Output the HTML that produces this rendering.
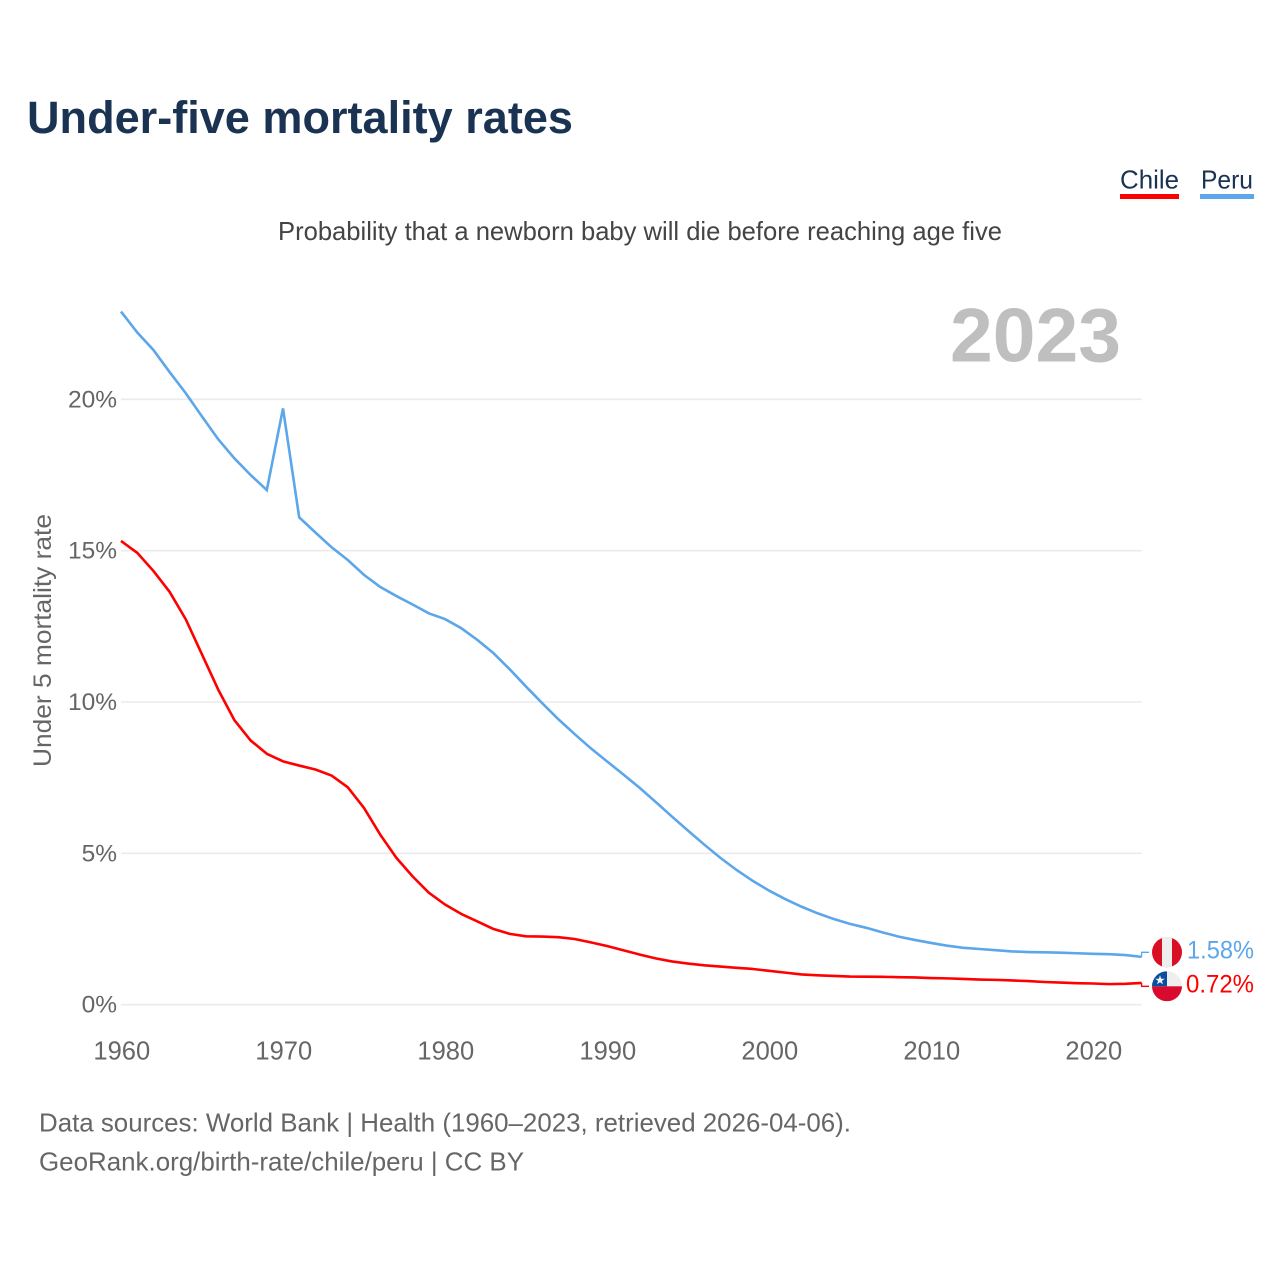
<!DOCTYPE html>
<html lang="en">
<head>
<meta charset="utf-8">
<title>Under-five mortality rates</title>
<style>
html,body{margin:0;padding:0;background:#fff;width:1280px;height:1280px;overflow:hidden}
svg{display:block}
text{font-family:"Liberation Sans",sans-serif}
</style>
</head>
<body>
<svg id="chart" width="1280" height="1280" viewBox="0 0 1280 1280" xmlns="http://www.w3.org/2000/svg">
  <rect x="0" y="0" width="1280" height="1280" fill="#ffffff"/>
  <text x="27" y="133" font-size="45" font-weight="700" fill="#1a3352" textLength="546" lengthAdjust="spacingAndGlyphs">Under-five mortality rates</text>
  <g>
    <text x="1120" y="188.5" font-size="26" fill="#1a3352" textLength="59" lengthAdjust="spacingAndGlyphs">Chile</text>
    <rect x="1120" y="194" width="59" height="5" fill="#ff0000"/>
  </g>
  <g>
    <text x="1201" y="188.5" font-size="26" fill="#1a3352" textLength="52" lengthAdjust="spacingAndGlyphs">Peru</text>
    <rect x="1200" y="194" width="54" height="5" fill="#5ca6ea"/>
  </g>
  <text x="278" y="240" font-size="26" fill="#444444" textLength="724" lengthAdjust="spacingAndGlyphs">Probability that a newborn baby will die before reaching age five</text>
  <text x="950" y="361.5" font-size="76" font-weight="700" fill="#bfbfbf" textLength="171" lengthAdjust="spacingAndGlyphs">2023</text>
  <text transform="translate(51,767) rotate(-90)" x="0" y="0" font-size="25" fill="#666666" textLength="253" lengthAdjust="spacingAndGlyphs">Under 5 mortality rate</text>
  <g id="grid"></g>
  <g id="yticks"></g>
  <g id="xticks"></g>
  <g id="series"></g>
  <g id="ends"></g>
  <text x="39" y="1131.5" font-size="26" fill="#666666" textLength="812" lengthAdjust="spacingAndGlyphs">Data sources: World Bank | Health (1960–2023, retrieved 2026-04-06).</text>
  <text x="39" y="1170.5" font-size="26" fill="#666666" textLength="485" lengthAdjust="spacingAndGlyphs">GeoRank.org/birth-rate/chile/peru | CC BY</text>
</svg>
<script>
const firstYear = 1960;
const lastYear = 2023;
const yearTicks = [1960, 1970, 1980, 1990, 2000, 2010, 2020];
const rateTicks = [0, 5, 10, 15, 20];
const chileRates = [15.32, 14.93, 14.33, 13.64, 12.73, 11.57, 10.41, 9.40, 8.73, 8.29,
  8.04, 7.90, 7.77, 7.57, 7.18, 6.50, 5.62, 4.85, 4.24, 3.70,
  3.31, 3.00, 2.75, 2.50, 2.34, 2.26, 2.25, 2.23, 2.17, 2.06,
  1.94, 1.80, 1.66, 1.53, 1.43, 1.36, 1.30, 1.26, 1.22, 1.18,
  1.12, 1.06, 1.00, 0.97, 0.95, 0.93, 0.925, 0.92, 0.91, 0.90,
  0.88, 0.87, 0.85, 0.83, 0.82, 0.80, 0.78, 0.75, 0.73, 0.71,
  0.70, 0.68, 0.69, 0.72];
const peruRates = [22.90, 22.21, 21.63, 20.90, 20.20, 19.43, 18.68, 18.05, 17.50, 17.00,
  19.70, 16.10, 15.60, 15.11, 14.69, 14.20, 13.80, 13.50, 13.22, 12.93,
  12.74, 12.44, 12.05, 11.61, 11.08, 10.51, 9.96, 9.43, 8.94, 8.47,
  8.04, 7.61, 7.17, 6.70, 6.22, 5.75, 5.29, 4.85, 4.45, 4.09,
  3.77, 3.49, 3.24, 3.02, 2.83, 2.67, 2.54, 2.39, 2.25, 2.14,
  2.04, 1.95, 1.88, 1.84, 1.80, 1.76, 1.74, 1.73, 1.72, 1.70,
  1.68, 1.67, 1.64, 1.58];

const NS = 'http://www.w3.org/2000/svg';
const xAxis = year => 121 + (year - firstYear) * (1141.6 - 121) / (lastYear - firstYear);
const yAxis = rate => 1004.7 - rate * 30.27;

function make(parent, tag, attrs, content) {
  const el = document.createElementNS(NS, tag);
  for (const key in attrs) el.setAttribute(key, attrs[key]);
  if (content !== undefined) el.textContent = content;
  parent.appendChild(el);
  return el;
}

const gridGroup = document.getElementById('grid');
const yTickGroup = document.getElementById('yticks');
const xTickGroup = document.getElementById('xticks');
const seriesGroup = document.getElementById('series');
const endGroup = document.getElementById('ends');

rateTicks.forEach(rate => {
  const line = make(gridGroup, 'line', {x1: xAxis(firstYear), x2: xAxis(lastYear), y1: yAxis(rate), y2: yAxis(rate), stroke: '#ebebeb', 'stroke-width': 1.6});
  
  
  const label = make(yTickGroup, 'text', {x: 117, y: yAxis(rate) + 8, 'text-anchor': 'end', 'font-size': 24.5, fill: '#666666'}, rate + '%');
  
  
});

yearTicks.forEach(year => {
  const label = make(xTickGroup, 'text', {x: xAxis(year) + 0.8, y: 1059.5, 'text-anchor': 'middle', 'font-size': 25.5, fill: '#666666'}, String(year));
  
  
});

const toPoints = rates => rates.map((rate, i) => xAxis(firstYear + i).toFixed(2) + ',' + yAxis(rate).toFixed(2)).join(' ');

const peruLine = make(seriesGroup, 'polyline', {points: toPoints(peruRates), fill: 'none', stroke: '#5ca6ea', 'stroke-width': 2.6, 'stroke-linejoin': 'miter'});


const chileLine = make(seriesGroup, 'polyline', {points: toPoints(chileRates), fill: 'none', stroke: '#ff0000', 'stroke-width': 2.6, 'stroke-linejoin': 'round'});



/* End labels: dodge the two flags apart by a fixed separation around the data ends. */
const peruEnd = peruRates[peruRates.length - 1];
const chileEnd = chileRates[chileRates.length - 1];
const flagGap = 34;
const peruEndY = yAxis(peruEnd);
const chileEndY = yAxis(chileEnd);
const endMid = (peruEndY + chileEndY) / 2 - 0.6;
const overlap = Math.abs(chileEndY - peruEndY) < flagGap;
const peruFlagY = overlap ? endMid - flagGap / 2 : peruEndY;
const chileFlagY = overlap ? endMid + flagGap / 2 : chileEndY;
const endX = xAxis(lastYear);
const flagX = 1167;
const flagR = 15;

const peruLeader = make(endGroup, 'polyline', {points: endX + ',' + peruEndY + ' ' + endX + ',' + peruFlagY + ' ' + (flagX - flagR - 3) + ',' + peruFlagY, fill: 'none', stroke: '#5ca6ea', 'stroke-width': 1.3});


const chileLeader = make(endGroup, 'polyline', {points: endX + ',' + chileEndY + ' ' + endX + ',' + chileFlagY + ' ' + (flagX - flagR - 3) + ',' + chileFlagY, fill: 'none', stroke: '#ff0000', 'stroke-width': 1.3});



const defs = make(endGroup, 'defs', {});
const peruClip = make(defs, 'clipPath', {id: 'clip-peru'});
make(peruClip, 'circle', {cx: flagX, cy: peruFlagY, r: flagR});
const chileClip = make(defs, 'clipPath', {id: 'clip-chile'});
make(chileClip, 'circle', {cx: flagX, cy: chileFlagY, r: flagR});

const peruFlag = make(endGroup, 'g', {'clip-path': 'url(#clip-peru)'});


make(peruFlag, 'rect', {x: flagX - flagR, y: peruFlagY - flagR, width: 2 * flagR, height: 2 * flagR, fill: '#d91023'});
make(peruFlag, 'rect', {x: flagX - flagR / 3, y: peruFlagY - flagR, width: 2 * flagR / 3, height: 2 * flagR, fill: '#eeeeee'});

const chileFlag = make(endGroup, 'g', {'clip-path': 'url(#clip-chile)'});


make(chileFlag, 'rect', {x: flagX - flagR, y: chileFlagY - flagR, width: 2 * flagR, height: flagR, fill: '#eeeeee'});
make(chileFlag, 'rect', {x: flagX - flagR, y: chileFlagY, width: 2 * flagR, height: flagR, fill: '#da0a2f'});
make(chileFlag, 'rect', {x: flagX - flagR, y: chileFlagY - flagR, width: flagR, height: flagR, fill: '#0a4ea2'});
const star = make(chileFlag, 'polygon', {
  points: '0,-5 1.2,-1.6 4.8,-1.5 1.9,0.6 3,4 0,2 -3,4 -1.9,0.6 -4.8,-1.5 -1.2,-1.6',
  transform: 'translate(' + (flagX - 7) + ',' + (chileFlagY - 6) + ')',
  fill: '#f2f2f2'
});



const peruValue = make(endGroup, 'text', {x: 1187, y: peruFlagY + 6, 'font-size': 25, fill: '#5ca6ea', textLength: 67, lengthAdjust: 'spacingAndGlyphs'}, peruEnd.toFixed(2) + '%');


const chileValue = make(endGroup, 'text', {x: 1186, y: chileFlagY + 6, 'font-size': 25, fill: '#ff0000', textLength: 68, lengthAdjust: 'spacingAndGlyphs'}, chileEnd.toFixed(2) + '%');


</script>
</body>
</html>
